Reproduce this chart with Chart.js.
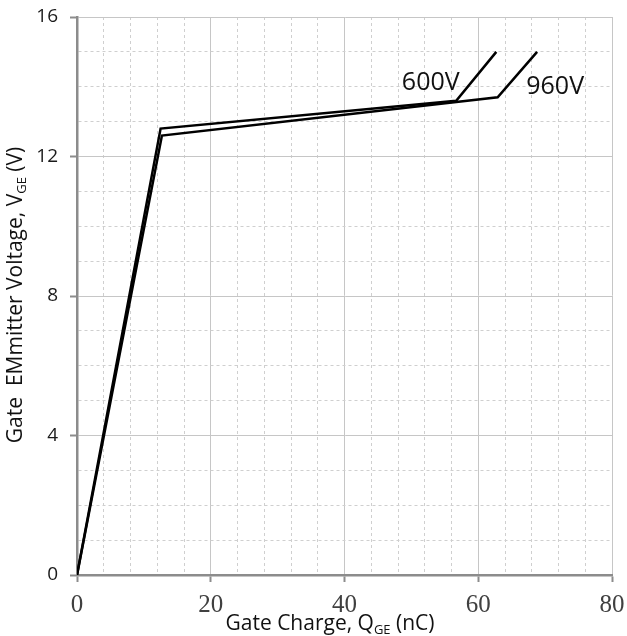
<!DOCTYPE html>
<html>
<head>
<meta charset="utf-8">
<script src="https://cdn.jsdelivr.net/npm/chart.js@4/dist/chart.umd.min.js"></script>
<style>
  html, body { margin: 0; background: #fff; }
  #wrap { width: 627px; height: 636px; }
</style>
</head>
<body>
<div id="wrap"><canvas id="graph"></canvas></div>
<script>
// gate charge curves, one per collector voltage
const charge600 = [0, 12.5, 56.7, 62.7];
const volt600 = [0, 12.8, 13.6, 15];
const charge960 = [0, 12.7, 62.9, 68.8];
const volt960 = [0, 12.6, 13.7, 15];

// curve tags, placed in data units
const curveNames = ["600V", "960V"];
const tagCharge = [52.9, 71.5];
const tagVolt = [14.1, 14.0];

// axis ranges: label every major step, grid every minor step
const xRange = [0, 80];
const xMinor = 4;
const xMajor = 20;
const yRange = [0, 16];
const yMinor = 1;
const yMajor = 4;

function toPoints(xs, ys) {
  return xs.map((v, i) => ({ x: v, y: ys[i] }));
}

// draws "main + subscript + rest" centred on (cx, cy)
function drawSub(ctx, parts, cx, cy, size) {
  const big = size + 'px "Open Sans"';
  const small = Math.round(size * 0.62) + 'px "Open Sans"';
  ctx.font = big;
  const w0 = ctx.measureText(parts[0]).width;
  const w2 = ctx.measureText(parts[2]).width;
  ctx.font = small;
  const w1 = ctx.measureText(parts[1]).width;
  let px = cx - (w0 + w1 + w2) / 2;
  ctx.textAlign = "left";
  ctx.textBaseline = "middle";
  ctx.font = big;
  ctx.fillText(parts[0], px, cy);
  px += w0;
  ctx.font = small;
  ctx.fillText(parts[1], px, cy + size * 0.3);
  px += w1;
  ctx.font = big;
  ctx.fillText(parts[2], px, cy);
}

const textPlugin = {
  id: "axisText",
  afterDraw(chart) {
    const { ctx } = chart;
    const { x, y } = chart.scales;
    ctx.save();
    ctx.fillStyle = "#111";
    ctx.font = '25px "Open Sans"';
    ctx.textAlign = "center";
    ctx.textBaseline = "middle";
    curveNames.forEach((t, i) => {
      ctx.fillText(t, x.getPixelForValue(tagCharge[i]), y.getPixelForValue(tagVolt[i]));
    });
    drawSub(ctx, ["Gate Charge, Q", "GE", " (nC)"], 330, 624, 21);
    ctx.translate(16, 295);
    ctx.rotate(-Math.PI / 2);
    drawSub(ctx, ["Gate  EMmitter Voltage, V", "GE", " (V)"], 0, 0, 21);
    ctx.restore();
  },
};

const isMajor = (ctx, step) => ctx.tick && Math.abs(ctx.tick.value % step) < 1e-6;

const lineStyle = {
  borderColor: "#000",
  borderWidth: 2.5,
  pointRadius: 0,
  showLine: true,
  fill: false,
  tension: 0,
};

new Chart(document.getElementById("graph"), {
  type: "scatter",
  data: {
    datasets: [
      { label: curveNames[0], data: toPoints(charge600, volt600), ...lineStyle },
      { label: curveNames[1], data: toPoints(charge960, volt960), ...lineStyle },
    ],
  },
  options: {
    responsive: true,
    maintainAspectRatio: false,
    animation: false,
    devicePixelRatio: 1,
    layout: { padding: { top: 17, right: 15, left: 0, bottom: 0 } },
    plugins: { legend: { display: false }, tooltip: { enabled: false } },
    scales: {
      x: {
        type: "linear",
        min: xRange[0],
        max: xRange[1],
        afterFit: (s) => {
          s.height = 61;
          s.paddingLeft = 0;
          s.paddingRight = 0;
        },
        ticks: {
          stepSize: xMinor,
          autoSkip: false,
          maxRotation: 0,
          padding: 8,
          color: "#404040",
          font: { family: "Liberation Serif", size: 25 },
          callback: (v) => (v % xMajor === 0 ? v : ""),
        },
        grid: {
          color: (c) => (isMajor(c, xMajor) ? "#c6c6c6" : "#cfcfcf"),
          lineWidth: 1,
          tickLength: 7,
          tickColor: (c) => (isMajor(c, xMajor) ? "#8c8c8c" : "rgba(0,0,0,0)"),
          tickWidth: 2,
        },
        border: {
          color: "#8c8c8c",
          width: 2.5,
          dash: (c) => (c.tick && !isMajor(c, xMajor) ? [3, 3] : []),
        },
      },
      y: {
        type: "linear",
        min: yRange[0],
        max: yRange[1],
        afterFit: (s) => {
          s.width = 77;
          s.paddingTop = 0;
          s.paddingBottom = 0;
        },
        ticks: {
          stepSize: yMinor,
          autoSkip: false,
          padding: 12,
          color: "#1a1a1a",
          font: { family: "Open Sans", size: 19 },
          callback: (v) => (v % yMajor === 0 ? v : ""),
        },
        grid: {
          color: (c) => (isMajor(c, yMajor) ? "#c6c6c6" : "#cfcfcf"),
          lineWidth: 1,
          tickLength: 7,
          tickColor: (c) => (isMajor(c, yMajor) ? "#8c8c8c" : "rgba(0,0,0,0)"),
          tickWidth: 2,
        },
        border: {
          color: "#8c8c8c",
          width: 2.5,
          dash: (c) => (c.tick && !isMajor(c, yMajor) ? [3, 3] : []),
        },
      },
    },
  },
  plugins: [textPlugin],
});
</script>
</body>
</html>
